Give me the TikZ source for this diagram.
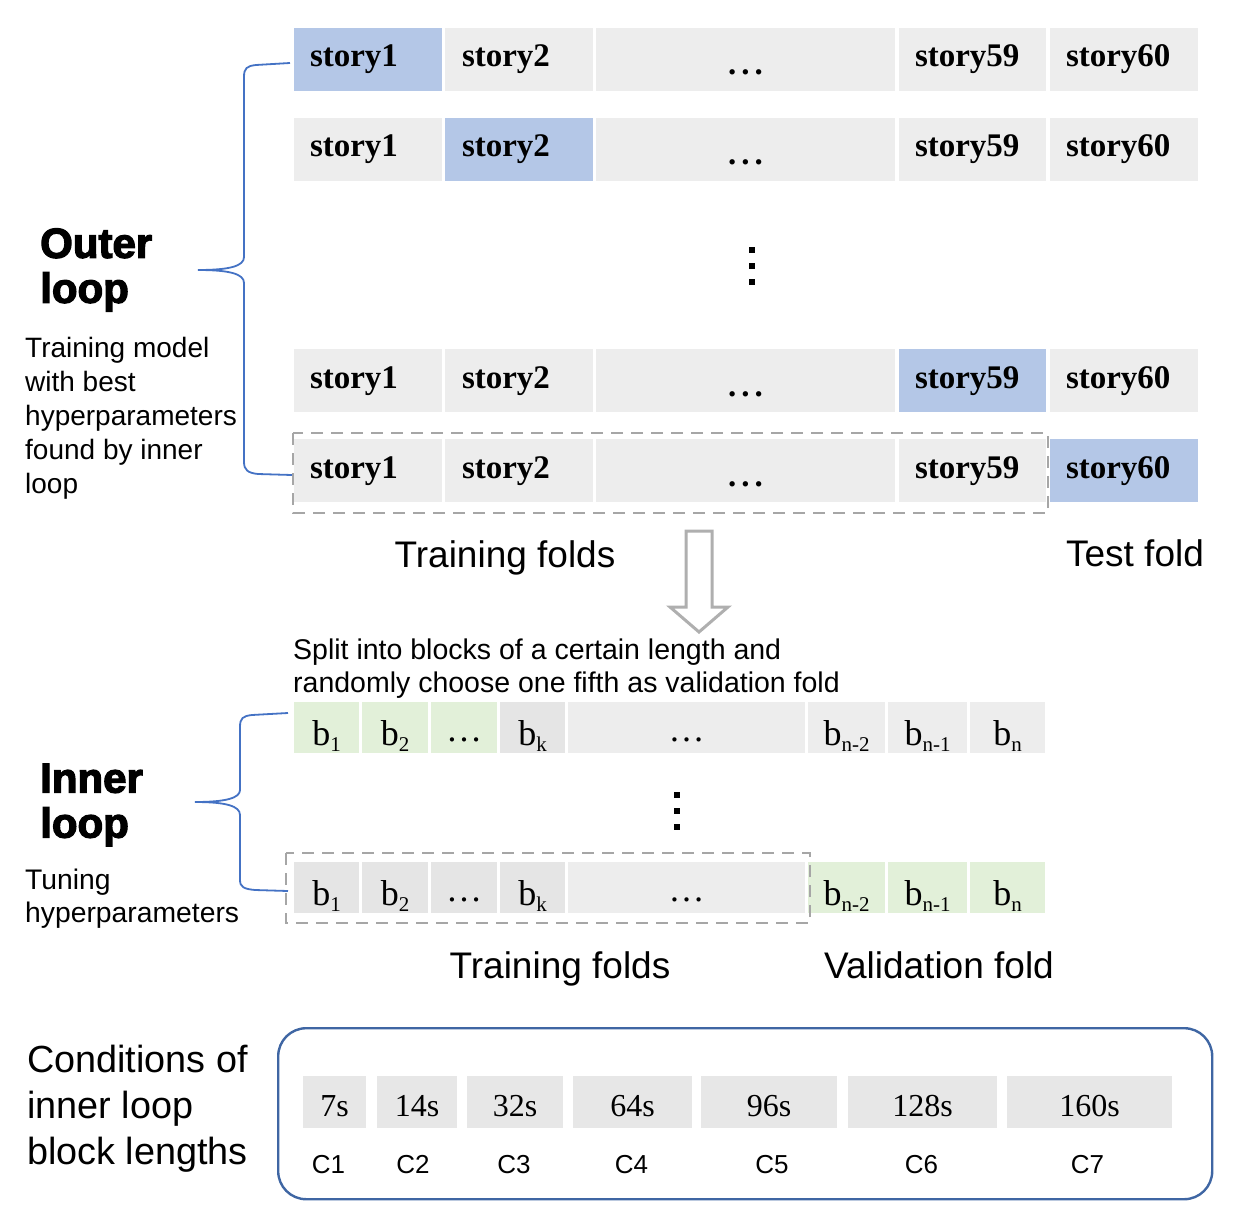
\documentclass[tikz,border=0pt]{standalone}
\usepackage{fontspec}
\setmainfont{Liberation Sans}
\newfontfamily\serif{Liberation Serif}
\newfontfamily\heavy{Liberation Sans Bold}[FakeBold=3]
\definecolor{cellgray}{HTML}{EDEDED}
\definecolor{dkgray}{HTML}{E5E5E5}
\definecolor{hlblue}{HTML}{B4C7E7}
\definecolor{lgreen}{HTML}{E2F0D9}
\definecolor{dashc}{HTML}{A6A6A6}
\definecolor{bracec}{HTML}{4472C4}
\definecolor{arrowc}{HTML}{AFAFAF}
\definecolor{boxc}{HTML}{3F66A3}
\definecolor{condc}{HTML}{E7E7E7}
\newcommand\bs[1]{b\raisebox{-6pt}{\fontsize{21}{21}\selectfont #1}}
\newcommand\wdots{.\kern5pt.\kern5pt.}
\newcommand\storyrow[3]{%
  \foreach \i/\x/\w/\t in {1/294/148/{\hspace*{16pt}story1},2/445/148/{\hspace*{17pt}story2},3/596/299/{\hfill\raisebox{-8pt}{\wdots}\hfill},4/899/147/{\hspace*{16pt}story59},5/1050/148/{\hspace*{16pt}story60}}{%
    \ifnum\i=#3\relax\colorlet{cc}{hlblue}\else\colorlet{cc}{cellgray}\fi
    \node[scell,fill=cc] (#1\i) at (\x,#2) {\makebox[\w pt][l]{\t}};
  }}
\begin{document}
\begin{tikzpicture}[x=1pt,y=-1pt,
  scell/.style={anchor=north west, inner sep=0pt, outer sep=0pt, minimum height=63pt,
    text height=22pt, text depth=7pt, font=\serif\bfseries\fontsize{33}{33}\selectfont},
  bcell/.style={anchor=north west, inner sep=0pt, outer sep=0pt, minimum height=51pt,
    text height=35pt, text depth=0pt, font=\serif\fontsize{36}{36}\selectfont},
  ccell/.style={anchor=north west, inner sep=0pt, outer sep=0pt, minimum height=52pt,
    text height=28pt, text depth=0pt, fill=condc, font=\serif\fontsize{32}{32}\selectfont},
  clab/.style={inner sep=0pt, font=\fontsize{26}{26}\selectfont},
  dashbox/.style={draw=dashc, line width=2.8pt, dash pattern=on 12pt off 8pt},
  bracest/.style={draw=bracec, line width=1.8pt},
  arrowst/.style={draw=arrowc, line width=3pt, fill=white, line join=miter},
  biglbl/.style={inner sep=0pt, font=\fontsize{37}{37}\selectfont},
  headl/.style={inner sep=0pt, align=left, anchor=west, font=\heavy\fontsize{42}{45}\selectfont},
  desc/.style={inner sep=0pt, align=left, anchor=west},
  vdot/.style={fill=black}
]
\useasboundingbox (0,0) rectangle (1260,1228);

% ---------- outer loop rows ----------
\storyrow{ra}{28}{1}
\storyrow{rb}{118}{2}
\storyrow{rc}{349}{4}
\storyrow{rd}{439}{5}
\draw[dashbox] ([xshift=-1pt,yshift=6pt]rd1.north west) rectangle ([xshift=2pt,yshift=-11pt]rd4.south east);

% vertical dots (outer)
\foreach \yy in {250,266,282}{\fill[vdot] (749,\yy-3) rectangle (755,\yy+3);}

% outer brace
\draw[bracest] (290,63) -- (256,65) .. controls (247,66) and (244,68) .. (244,77) -- (244,257)
  .. controls (244,266) and (230,270) .. (198,270)
  .. controls (230,270) and (244,274) .. (244,283) -- (244,462)
  .. controls (244,470) and (248,473) .. (258,474) -- (292,475);

% left texts outer
\node[headl] (outerh) at (40,270) {Outer\\loop};
\node[desc, font=\fontsize{28}{34}\selectfont] (outerd) at (25,418) {Training model\\with best\\hyperparameters\\found by inner\\loop};

% labels under outer rows
\node[biglbl, anchor=base] (trf1) at (505,567) {Training folds};
\node[biglbl, anchor=base] (tstf) at (1135,566) {Test fold};

% hollow arrow
\draw[arrowst] (686,531) -- (712,531) -- (712,607) -- (728,607) -- (699,632) -- (670,607) -- (686,607) -- cycle;

% split text
\node[desc, font=\fontsize{28.5}{33}\selectfont] (split) at (293,669) {Split into blocks of a certain length and\\randomly choose one fifth as validation fold};

% ---------- inner loop rows ----------
\foreach \i/\x/\w/\c/\t in {1/294/65/lgreen/{\bs{1}},2/362/66/lgreen/{\bs{2}},3/431/66/lgreen/{\raisebox{4pt}{…}},4/500/65/dkgray/{\bs{k}},5/568/237/cellgray/{\raisebox{4pt}{…}},6/808/77/cellgray/{\bs{n-2}},7/888/79/cellgray/{\bs{n-1}},8/970/75/cellgray/{\bs{n}}}{%
  \node[bcell, fill=\c, minimum width=\w pt] (ba\i) at (\x,702) {\t};
}
\foreach \i/\x/\w/\c/\t in {1/294/65/dkgray/{\bs{1}},2/362/66/dkgray/{\bs{2}},3/431/66/dkgray/{\raisebox{4pt}{…}},4/500/65/dkgray/{\bs{k}},5/568/237/cellgray/{\raisebox{4pt}{…}},6/808/77/lgreen/{\bs{n-2}},7/888/79/lgreen/{\bs{n-1}},8/970/75/lgreen/{\bs{n}}}{%
  \node[bcell, fill=\c, minimum width=\w pt] (bb\i) at (\x,862) {\t};
}
\draw[dashbox] ([xshift=-8pt,yshift=9pt]bb1.north west) rectangle ([xshift=5pt,yshift=-10pt]bb5.south east);

% vertical dots (inner)
\foreach \yy in {795,811,827}{\fill[vdot] (674,\yy-3) rectangle (680,\yy+3);}

% inner brace
\draw[bracest] (288,713) -- (252,715) .. controls (243,716) and (240,718) .. (240,727) -- (240,790)
  .. controls (240,798) and (226,802) .. (195,802)
  .. controls (226,802) and (240,806) .. (240,815) -- (240,880)
  .. controls (240,887) and (244,889) .. (255,890) -- (288,891);

% left texts inner
\node[headl] (innerh) at (40,805) {Inner\\loop};
\node[desc, font=\fontsize{28.3}{33}\selectfont] (innerd) at (25,899) {Tuning\\hyperparameters};

% labels under inner rows
\node[biglbl, anchor=base] (trf2) at (560,978) {Training folds};
\node[biglbl, anchor=base] (valf) at (939,978) {Validation fold};

% ---------- conditions ----------
\node[desc, font=\fontsize{37.8}{46}\selectfont] (condt) at (27,1109) {Conditions of\\inner loop\\block lengths};
\node[draw=boxc, line width=2.4pt, rounded corners=28pt, anchor=north west, minimum width=934pt, minimum height=171pt, inner sep=0pt] (cbox) at (277,1027) {};
\foreach \i/\x/\w/\t/\dx in {1/303/63/7s/-6,2/377/80/14s/-4,3/467/96/32s/-1,4/573/119/64s/-1,5/701/136/96s/3,6/848/149/128s/-1,7/1007/165/160s/-2}{%
  \node[ccell, minimum width=\w pt] (cc\i) at (\x,1076) {\t};
  \node[clab] (cl\i) at ([xshift=\dx pt,yshift=-37pt]cc\i.south) {C\i};
}
\end{tikzpicture}
\end{document}
